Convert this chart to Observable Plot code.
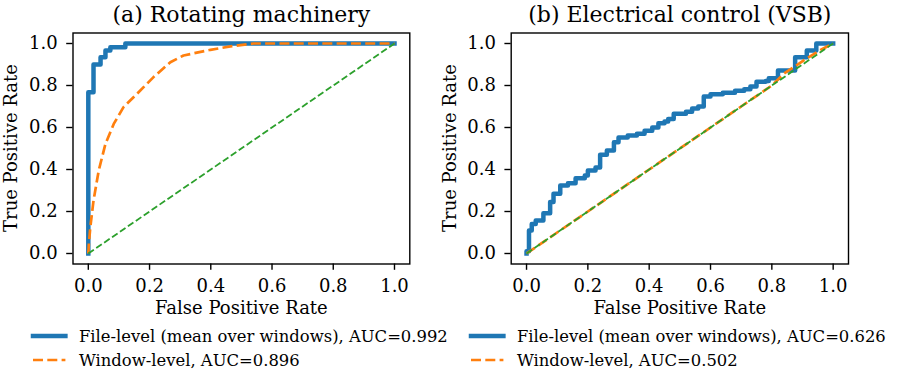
<!DOCTYPE html>
<html>
<head>
<meta charset="utf-8">
<script src="https://cdn.jsdelivr.net/npm/d3@7"></script>
<script src="https://cdn.jsdelivr.net/npm/@observablehq/plot@0.6"></script>
<style>
  html, body { margin: 0; padding: 0; background: white; }
  #root { position: relative; width: 897px; height: 379px; overflow: hidden; font-family: 'DejaVu Serif', serif; }
  .panel { position: absolute; top: 0; }
  .row { position: absolute; height: 24px; display: flex; align-items: center; font-size: 16.4px; white-space: nowrap; color: black; }
  .row svg { display: block; }
  .ylab { position: absolute; font-size: 18px; white-space: nowrap; color: black; transform: translate(-50%, -50%) rotate(-90deg); line-height: 1; }
</style>
</head>
<body>
<div id="root"></div>
<script>
// ---- data ----
const ticks = [0, 0.2, 0.4, 0.6, 0.8, 1.0];
const titles = ["(a) Rotating machinery", "(b) Electrical control (VSB)"];
const xLabel = "False Positive Rate";
const yLabel = "True Positive Rate";
const fileLabels = ["File-level (mean over windows), AUC=0.992", "File-level (mean over windows), AUC=0.626"];
const winLabels = ["Window-level, AUC=0.896", "Window-level, AUC=0.502"];

// (a) Rotating machinery
const rotFileFpr = [0, 0, 0.017, 0.04, 0.056, 0.072, 0.121, 1];
const rotFileTpr = [0, 0.768, 0.9, 0.935, 0.967, 0.982, 1, 1];
const rotWinFpr = [0, 0.002, 0.0065, 0.017, 0.034, 0.056, 0.083, 0.115, 0.159, 0.213, 0.268, 0.311, 0.399, 0.464, 0.54, 1];
const rotWinTpr = [0, 0.05, 0.125, 0.252, 0.395, 0.522, 0.617, 0.697, 0.76, 0.84, 0.911, 0.943, 0.97, 0.986, 1, 1];

// (b) Electrical control (VSB)
const vsbFileFpr = [0, 0, 0.008, 0.017, 0.03, 0.055, 0.077, 0.088, 0.11, 0.135, 0.16, 0.19, 0.2, 0.225, 0.24, 0.262, 0.285, 0.3, 0.33, 0.36, 0.385, 0.41, 0.43, 0.45, 0.462, 0.48, 0.52, 0.54, 0.56, 0.578, 0.6, 0.64, 0.68, 0.71, 0.73, 0.75, 0.78, 0.79, 0.82, 0.876, 0.914, 0.945, 1];
const vsbFileTpr = [0, 0.011, 0.11, 0.141, 0.157, 0.192, 0.245, 0.284, 0.324, 0.335, 0.358, 0.372, 0.395, 0.41, 0.47, 0.49, 0.53, 0.552, 0.562, 0.57, 0.584, 0.6, 0.62, 0.628, 0.64, 0.665, 0.675, 0.69, 0.7, 0.748, 0.758, 0.765, 0.775, 0.782, 0.795, 0.818, 0.822, 0.835, 0.872, 0.935, 0.967, 1, 1];
const vsbWinFpr = [0, 0.1, 0.2, 0.3, 0.4, 0.5, 0.6, 0.7, 0.8, 0.84, 0.91, 0.96, 1];
const vsbWinTpr = [0, 0.1, 0.2, 0.3, 0.4, 0.5, 0.6, 0.7, 0.8, 0.857, 0.925, 0.97, 1];

const diagFpr = [0, 1];
const diagTpr = [0, 1];

// ---- build ----
const toRows = (xs, ys) => xs.map((x, i) => ({fpr: x, tpr: ys[i]}));
const diag = toRows(diagFpr, diagTpr);
const panels = [
  {title: titles[0], file: toRows(rotFileFpr, rotFileTpr), win: toRows(rotWinFpr, rotWinTpr), left: 0, width: 440, ml: 72.5, mr: 30.7, ylabX: 11},
  {title: titles[1], file: toRows(vsbFileFpr, vsbFileTpr), win: toRows(vsbWinFpr, vsbWinTpr), left: 440, width: 457, ml: 70.7, mr: 49, ylabX: 450}
];
const C = {file: "#1f77b4", win: "#ff7f0e", diag: "#2ca02c"};
const root = document.getElementById("root");

panels.forEach((p, k) => {
  const chart = Plot.plot({
    width: p.width, height: 379,
    marginLeft: p.ml, marginRight: p.mr, marginTop: 32.5, marginBottom: 115.5,
    x: {domain: [-0.05, 1.05]},
    y: {domain: [-0.05, 1.05]},
    style: {fontFamily: "'DejaVu Serif', serif", fontSize: "18px", background: "transparent", color: "black", overflow: "visible"},
    marks: [
      Plot.line(p.file, {x: "fpr", y: "tpr", curve: "step-after", stroke: C.file, strokeWidth: 4.5, strokeLinecap: "square", strokeLinejoin: "round"}),
      Plot.line(p.win, {x: "fpr", y: "tpr", stroke: C.win, strokeWidth: 2.7, strokeDasharray: "10,4.3", strokeLinecap: "butt"}),
      Plot.line(diag, {x: "fpr", y: "tpr", stroke: C.diag, strokeWidth: 1.8, strokeDasharray: "6.7,2.9", strokeLinecap: "butt"}),
      Plot.frame({stroke: "black", strokeWidth: 1.4}),
      Plot.axisX(ticks, {tickSize: 6.3, tickPadding: 8.5, tickFormat: d => d.toFixed(1), label: null, fontSize: 18, strokeWidth: 1.4}),
      Plot.axisY(ticks, {tickSize: 6.3, tickPadding: 9, tickFormat: d => d.toFixed(1), label: null, fontSize: 18, strokeWidth: 1.4}),
      Plot.text([p.title], {text: d => d, frameAnchor: "top", lineAnchor: "middle", dy: -18.5, fontSize: 22}),
      Plot.text([xLabel], {text: d => d, frameAnchor: "bottom", lineAnchor: "middle", dy: 44, fontSize: 18})
    ]
  });
  const wrap = document.createElement("div");
  wrap.className = "panel";
  wrap.style.left = p.left + "px";
  wrap.appendChild(chart);
  root.appendChild(wrap);

  const yl = document.createElement("div");
  yl.className = "ylab";
  yl.textContent = yLabel;
  yl.style.left = p.ylabX + "px";
  yl.style.top = "148px";
  root.appendChild(yl);

  // legend
  const swatchStart = k === 0 ? 33.25 : 471.25;
  const textStart = swatchStart + 45.75;
  const rows = [
    {label: fileLabels[k], color: C.file, w: 4.5, dash: null, cap: "square", cy: 336},
    {label: winLabels[k], color: C.win, w: 2.7, dash: "10,4.3", cap: "butt", cy: 360}
  ];
  rows.forEach(r => {
    const row = document.createElement("div");
    row.className = "row";
    row.style.left = (swatchStart - 3) + "px";
    row.style.top = (r.cy - 12) + "px";
    const svg = d3.create("svg").attr("width", 38.5).attr("height", 10).style("margin-right", (textStart - swatchStart - 35.5) + "px");
    svg.append("line").attr("x1", 3).attr("x2", 35.4).attr("y1", 5).attr("y2", 5)
      .attr("stroke", r.color).attr("stroke-width", r.w).attr("stroke-linecap", r.cap)
      .attr("stroke-dasharray", r.dash);
    row.appendChild(svg.node());
    const span = document.createElement("span");
    span.textContent = r.label;
    row.appendChild(span);
    root.appendChild(row);
  });
});
</script>
</body>
</html>
